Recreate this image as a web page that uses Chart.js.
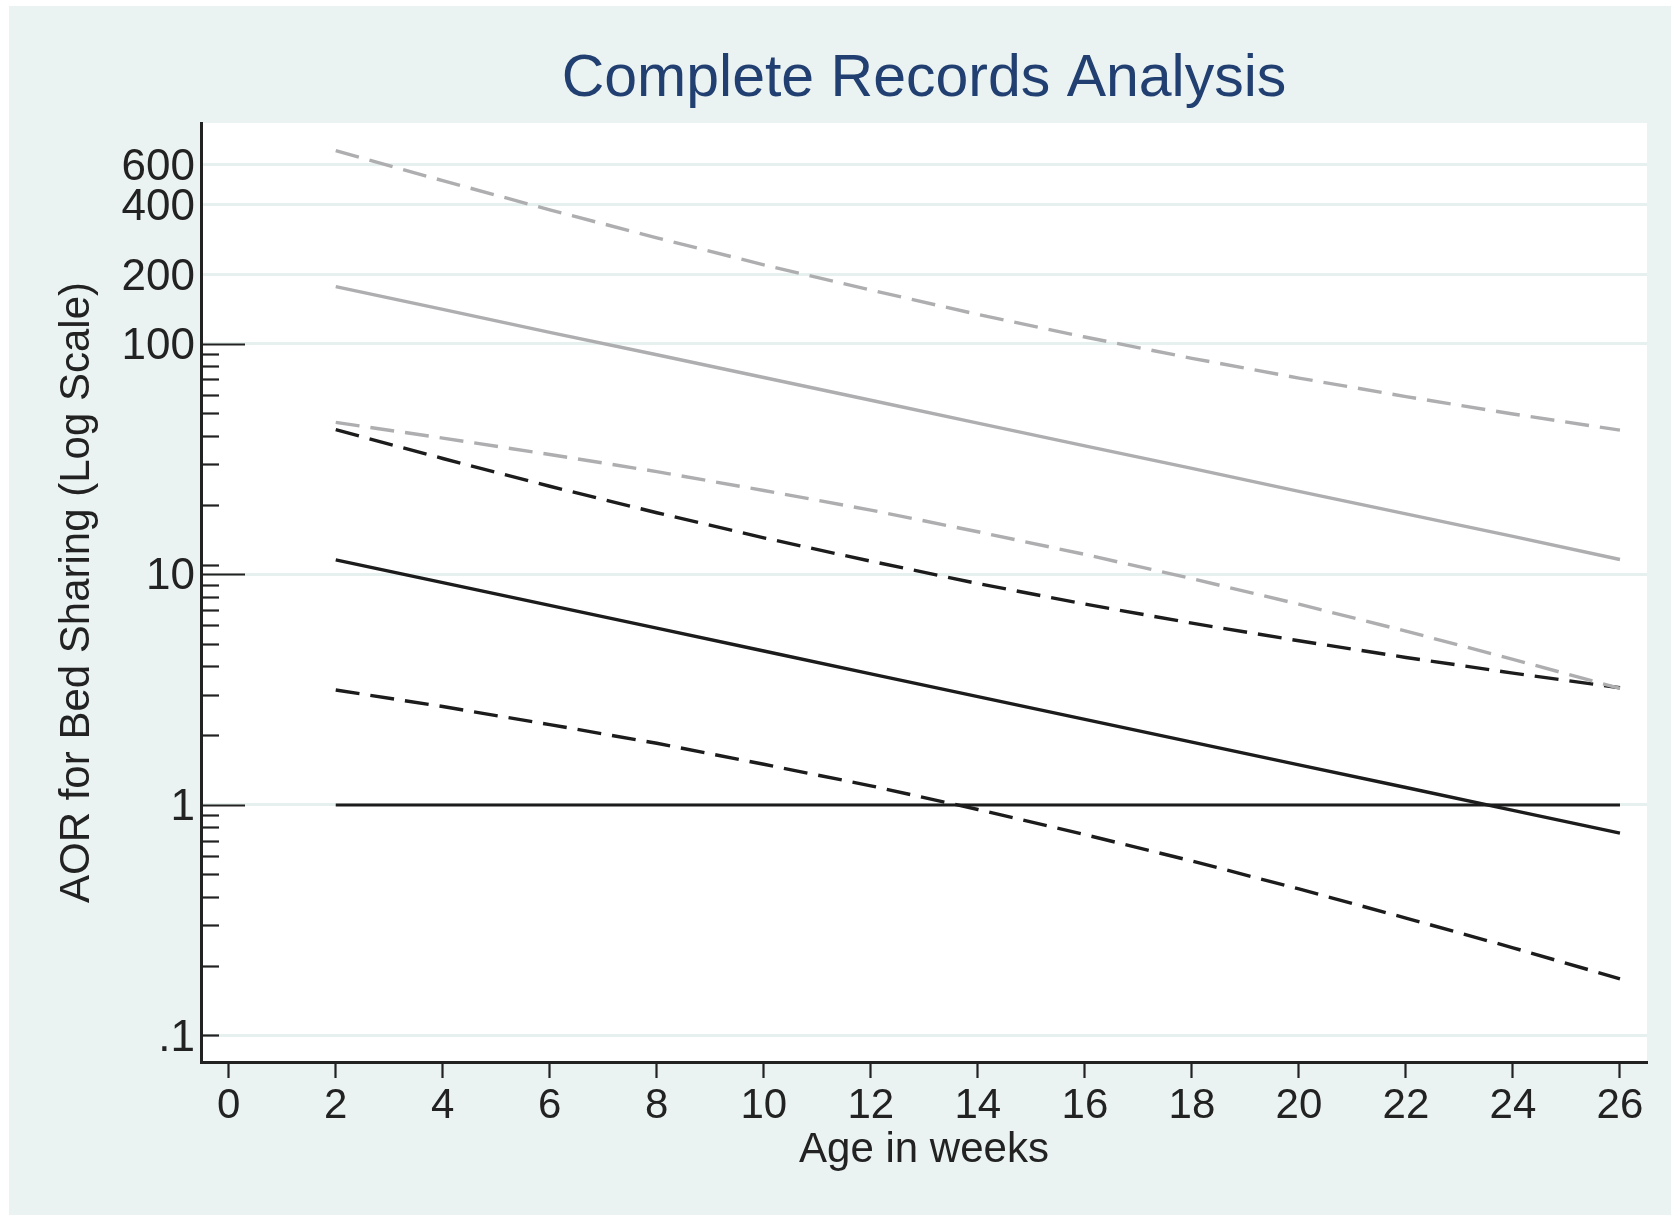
<!DOCTYPE html>
<html>
<head>
<meta charset="utf-8">
<script src="https://cdn.jsdelivr.net/npm/chart.js@4.4.1/dist/chart.umd.min.js"></script>
<style>
  html, body { margin: 0; padding: 0; background: #ffffff; }
  #wrap { width: 1671px; height: 1220px; }
</style>
</head>
<body>
<div id="wrap"><canvas id="c" width="1671" height="1220"></canvas></div>
<script>
// ---- Data ----
const weeks = [2, 4, 6, 8, 10, 12, 14, 16, 18, 20, 22, 24, 26];
const grayEstimate = [177, 141, 112, 89.6, 71.4, 56.9, 45.3, 36.1, 28.8, 22.9, 18.3, 14.6, 11.6];
const grayUpper    = [688, 510, 381, 288, 220, 171, 134, 107, 86.5, 71.0, 59.0, 49.6, 42.2];
const grayLower    = [45.6, 39.0, 33.1, 27.9, 23.1, 19.0, 15.3, 12.2, 9.58, 7.42, 5.67, 4.28, 3.20];
const blackEstimate = [11.55, 9.20, 7.33, 5.84, 4.65, 3.70, 2.95, 2.35, 1.87, 1.49, 1.19, 0.946, 0.754];
const blackUpper    = [42.4, 31.8, 24.1, 18.5, 14.4, 11.4, 9.12, 7.43, 6.14, 5.15, 4.36, 3.73, 3.22];
const blackLower    = [3.15, 2.67, 2.23, 1.85, 1.50, 1.21, 0.955, 0.743, 0.571, 0.432, 0.323, 0.240, 0.176];
const referenceLine = [1, 1, 1, 1, 1, 1, 1, 1, 1, 1, 1, 1, 1];

const xTickValues = [0, 2, 4, 6, 8, 10, 12, 14, 16, 18, 20, 22, 24, 26];
const yTickValues = [0.1, 1, 10, 100, 200, 400, 600];
const yTickLabels = ['.1', '1', '10', '100', '200', '400', '600'];
const yMajorTickMarks = [1, 10, 100];
const yShortTickMarks = [0.1];
const yMinorTickMarks = [0.2, 0.3, 0.4, 0.5, 0.6, 0.7, 0.8, 0.9,
                         2, 3, 4, 5, 6, 7, 8, 9, 11,
                         20, 30, 40, 50, 60, 70, 80, 90];

const titleText = 'Complete Records Analysis';
const xTitle = 'Age in weeks';
const yTitle = 'AOR for Bed Sharing (Log Scale)';

// ---- Styles ----
const FONT = '"Liberation Sans", Arial, Helvetica, sans-serif';
const GRAY = '#aeaeb0';
const BLACK = '#1c1c1c';
const MINT = '#eaf3f2';
const GRID = '#e6f0ef';
const INK = '#222222';

function pts(vals) { return weeks.map((w, i) => ({ x: w, y: vals[i] })); }

const bgPlugin = {
  id: 'bg',
  beforeDraw(chart) {
    const { ctx, chartArea: a } = chart;
    ctx.save();
    ctx.fillStyle = '#ffffff';
    ctx.fillRect(0, 0, chart.width, chart.height);
    ctx.fillStyle = MINT;
    ctx.fillRect(9, 6, chart.width - 9, chart.height - 11);
    ctx.fillStyle = '#ffffff';
    ctx.fillRect(a.left, a.top, a.right - a.left, a.bottom - a.top);
    ctx.restore();
  }
};

const yTickPlugin = {
  id: 'yTickMarks',
  afterDatasetsDraw(chart) {
    const { ctx, chartArea: a } = chart;
    const ys = chart.scales.y;
    ctx.save();
    ctx.strokeStyle = INK;
    ctx.lineWidth = 2.2;
    const draw = (vals, len) => {
      vals.forEach(v => {
        const p = Math.round(ys.getPixelForValue(v)) + 0.5;
        ctx.beginPath();
        ctx.moveTo(a.left, p);
        ctx.lineTo(a.left + len, p);
        ctx.stroke();
      });
    };
    draw(yMajorTickMarks, 44);
    draw(yShortTickMarks, 18);
    draw(yMinorTickMarks, 18);
    ctx.restore();
  }
};

const lineDs = (label, vals, color, dashed, width) => ({
  label,
  data: pts(vals),
  borderColor: color,
  borderWidth: width || 3.4,
  borderDash: dashed ? [24, 11] : [],
  borderCapStyle: 'butt',
  pointRadius: 0,
  tension: 0,
  fill: false
});

new Chart(document.getElementById('c'), {
  type: 'line',
  data: {
    datasets: [
      lineDs('Gray lower CI', grayLower, GRAY, true),
      lineDs('Gray upper CI', grayUpper, GRAY, true),
      lineDs('Gray estimate', grayEstimate, GRAY, false),
      lineDs('Black upper CI', blackUpper, BLACK, true),
      lineDs('Black lower CI', blackLower, BLACK, true),
      lineDs('Black estimate', blackEstimate, BLACK, false),
      lineDs('Reference', referenceLine, BLACK, false, 3)
    ]
  },
  options: {
    responsive: false,
    animation: false,
    devicePixelRatio: 1,
    layout: { padding: { left: 0, right: 24, top: 0, bottom: 0 } },
    plugins: {
      legend: { display: false },
      tooltip: { enabled: false },
      title: {
        display: true,
        fullSize: false,
        text: titleText,
        color: '#213f70',
        font: { family: FONT, size: 59, weight: 'normal', lineHeight: 1.2 },
        padding: { top: 44, bottom: 8.2 }
      }
    },
    scales: {
      x: {
        type: 'linear',
        min: -0.518,
        max: 26.505,
        afterBuildTicks: s => { s.ticks = xTickValues.map(v => ({ value: v })); },
        afterFit: s => { s.height = 158; },
        ticks: {
          autoSkip: false,
          maxRotation: 0,
          padding: 3,
          color: INK,
          font: { family: FONT, size: 42 },
          callback: v => String(v)
        },
        grid: {
          display: true,
          drawOnChartArea: false,
          drawTicks: true,
          tickLength: 16,
          tickColor: INK,
          tickWidth: 2.2
        },
        border: { display: true, color: INK, width: 3 },
        title: {
          display: true,
          text: xTitle,
          color: INK,
          font: { family: FONT, size: 42, lineHeight: 1.2 },
          padding: { top: 44, bottom: 44 }
        }
      },
      y: {
        type: 'logarithmic',
        min: 0.0767,
        max: 907,
        afterBuildTicks: s => { s.ticks = yTickValues.map(v => ({ value: v })); },
        afterFit: s => { s.width = 201; },
        ticks: {
          autoSkip: false,
          padding: 6,
          labelOffset: 3,
          color: INK,
          font: { family: FONT, size: 44 },
          callback: v => {
            const i = yTickValues.indexOf(v);
            return i >= 0 ? yTickLabels[i] : '';
          }
        },
        grid: {
          display: true,
          drawOnChartArea: true,
          drawTicks: false,
          color: GRID,
          lineWidth: 3
        },
        border: { display: true, color: INK, width: 3 },
        title: {
          display: true,
          text: yTitle,
          color: INK,
          font: { family: FONT, size: 42, lineHeight: 1.2 },
          padding: { top: 52, bottom: 52 }
        }
      }
    }
  },
  plugins: [bgPlugin, yTickPlugin]
});
</script>
</body>
</html>
